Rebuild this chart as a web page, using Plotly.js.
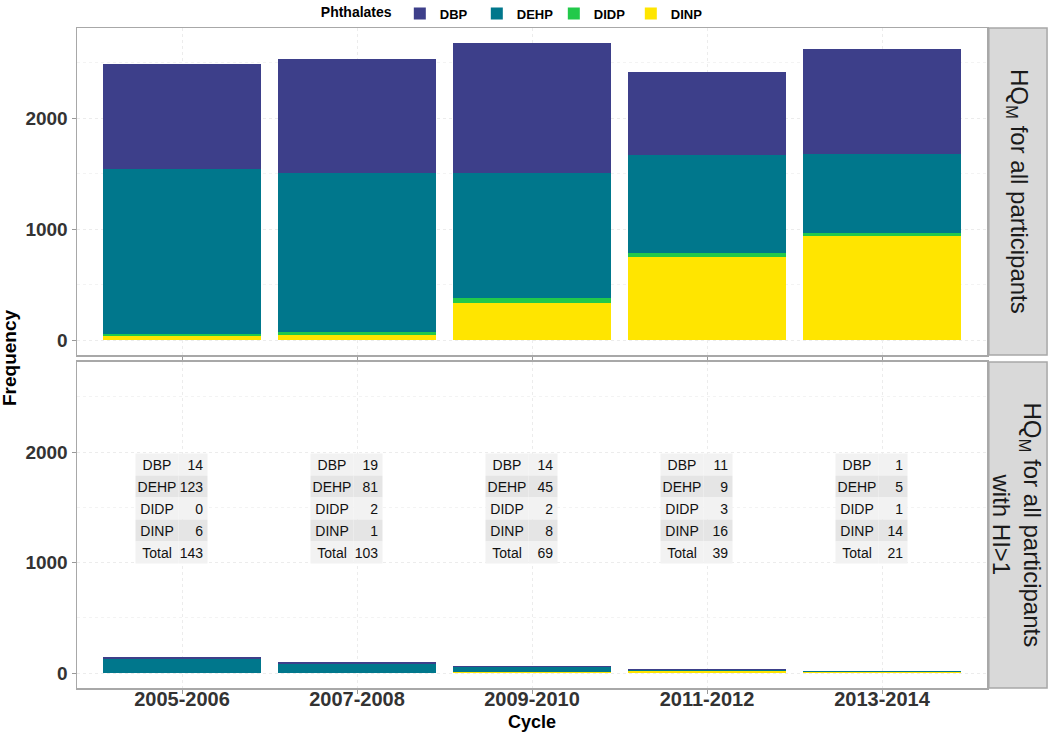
<!DOCTYPE html>
<html>
<head>
<meta charset="utf-8">
<script src="https://cdn.plot.ly/plotly-3.0.1.min.js"></script>
<style>html,body{margin:0;padding:0;background:#fff;}#chart{width:1050px;height:733px;}</style>
</head>
<body>
<div id="chart"></div>
<script>
// ---- Data ----
var cycles = ['2005-2006', '2007-2008', '2009-2010', '2011-2012', '2013-2014'];
var phthalates = ['DBP', 'DEHP', 'DIDP', 'DINP'];

// Panel 1: HQM for all participants
var allDBP  = [950, 1030, 1175, 745, 950];
var allDEHP = [1490, 1435, 1130, 885, 710];
var allDIDP = [15, 20, 38, 35, 25];
var allDINP = [38, 50, 338, 753, 940];

// Panel 2: HQM for all participants with HI>1
var hiDBP  = [14, 19, 14, 11, 1];
var hiDEHP = [123, 81, 45, 9, 5];
var hiDIDP = [0, 2, 2, 3, 1];
var hiDINP = [6, 1, 8, 16, 14];

var yTicks = [0, 1000, 2000];
var stripLabels = ['HQ<sub>M</sub> for all participants', 'HQ<sub>M</sub> for all participants<br>with HI>1'];

// ---- Styles ----
var colors = {DBP: '#3d3f8a', DEHP: '#00778c', DIDP: '#22c94a', DINP: '#ffe500'};
var FONT = 'Liberation Sans, Arial, sans-serif';

var allSeries = {DBP: allDBP, DEHP: allDEHP, DIDP: allDIDP, DINP: allDINP};
var hiSeries = {DBP: hiDBP, DEHP: hiDEHP, DIDP: hiDIDP, DINP: hiDINP};

var traces = [];
var stackOrder = ['DINP', 'DIDP', 'DEHP', 'DBP'];
stackOrder.forEach(function (k) {
  traces.push({type: 'bar', name: k, x: cycles, y: allSeries[k], xaxis: 'x', yaxis: 'y',
    marker: {color: colors[k], line: {width: 0}}, legendgroup: k, showlegend: true});
});
stackOrder.forEach(function (k) {
  traces.push({type: 'bar', name: k, x: cycles, y: hiSeries[k], xaxis: 'x2', yaxis: 'y2',
    marker: {color: colors[k], line: {width: 0}}, legendgroup: k, showlegend: false});
});

var yRange = [-134, 2815];
var gridStyle = {gridcolor: '#ececec', griddash: 'dot', gridwidth: 1};

function yAxis(domain, anchor) {
  return Object.assign({
    domain: domain, anchor: anchor, range: yRange, tickvals: yTicks, ticktext: yTicks.map(String),
    showline: true, mirror: true, linecolor: '#a8a8a8', linewidth: 1.5,
    ticks: 'outside', ticklen: 4, tickcolor: '#999', zeroline: false,
    tickfont: {family: FONT, size: 19, color: '#333', weight: 'bold'},
    minor: {dtick: 500, tick0: 0, showgrid: true, gridcolor: '#f3f3f3', griddash: 'dot', ticks: ''}
  }, gridStyle);
}
function xAxis(anchor, showLabels) {
  return Object.assign({
    anchor: anchor, domain: [0, 1], type: 'category', range: [-0.6, 4.6],
    showline: true, mirror: true, linecolor: '#a8a8a8', linewidth: 1.5,
    ticks: 'outside', ticklen: 4, tickcolor: '#999', showticklabels: showLabels,
    tickfont: {family: FONT, size: 20, color: '#333', weight: 'bold'}
  }, gridStyle);
}

var topDom = [0.5045, 1];
var botDom = [0, 0.494];

var annotations = [];
// axis titles
annotations.push({xref: 'paper', yref: 'paper', x: 0, y: 0.5, xshift: -68, xanchor: 'center', yanchor: 'middle',
  textangle: -90, text: '<b>Frequency</b>', showarrow: false, font: {family: FONT, size: 19, color: '#000'}});
annotations.push({xref: 'paper', yref: 'paper', x: 0.5, y: 0, yshift: -34, xanchor: 'center', yanchor: 'middle',
  text: '<b>Cycle</b>', showarrow: false, font: {family: FONT, size: 18, color: '#000'}});
// strip labels
[topDom, botDom].forEach(function (d, i) {
  annotations.push({xref: 'paper', yref: 'paper', x: 1.0335, y: (d[0] + d[1]) / 2, xanchor: 'center', yanchor: 'middle',
    textangle: 90, text: stripLabels[i], showarrow: false, font: {family: FONT, size: 24, color: '#1a1a1a'}});
});

// tables of counts in bottom panel
var rowLabels = ['DBP', 'DEHP', 'DIDP', 'DINP', 'Total'];
cycles.forEach(function (c, i) {
  var vals = [hiDBP[i], hiDEHP[i], hiDIDP[i], hiDINP[i], hiDBP[i] + hiDEHP[i] + hiDIDP[i] + hiDINP[i]];
  rowLabels.forEach(function (lab, r) {
    var bg = (r % 2 === 0) ? '#f2f2f2' : '#e5e5e5';
    var ys = (2 - r) * 22;
    annotations.push({xref: 'x2', yref: 'y2', x: c, y: 1490, xshift: -25, yshift: ys, xanchor: 'center', yanchor: 'middle',
      text: lab, showarrow: false, width: 42, height: 21, bgcolor: bg, borderpad: 0, align: 'center',
      font: {family: FONT, size: 14, color: '#111'}});
    annotations.push({xref: 'x2', yref: 'y2', x: c, y: 1490, xshift: 11, yshift: ys, xanchor: 'center', yanchor: 'middle',
      text: String(vals[r]) + ' ', showarrow: false, width: 28, height: 21, bgcolor: bg, borderpad: 0, align: 'right',
      font: {family: FONT, size: 14, color: '#111'}});
  });
});

var shapes = [];
[topDom, botDom].forEach(function (d) {
  shapes.push({type: 'rect', xref: 'paper', yref: 'paper', x0: 1.002, x1: 1.066, y0: d[0], y1: d[1],
    fillcolor: '#d9d9d9', line: {color: '#a8a8a8', width: 1.5}, layer: 'below'});
});

var layout = {
  width: 1050, height: 733,
  margin: {l: 77, r: 63, t: 28, b: 45, autoexpand: false},
  paper_bgcolor: '#fff', plot_bgcolor: '#fff',
  barmode: 'stack', bargap: 0.1,
  font: {family: FONT},
  showlegend: true,
  legend: {orientation: 'h', traceorder: 'reversed', x: 0.48, xanchor: 'center', y: 1.022, yanchor: 'middle',
    bgcolor: 'rgba(0,0,0,0)', entrywidth: 32, entrywidthmode: 'pixels',
    title: {text: '<b>Phthalates</b>', side: 'left', font: {family: FONT, size: 14, color: '#000'}},
    font: {family: FONT, size: 13, color: '#000', weight: 'bold'}, itemwidth: 30, tracegroupgap: 0},
  xaxis: xAxis('y', false),
  xaxis2: Object.assign(xAxis('y2', true), {matches: 'x', ticklabelstandoff: -12}),
  yaxis: yAxis(topDom, 'x'),
  yaxis2: yAxis(botDom, 'x2'),
  annotations: annotations,
  shapes: shapes
};

Plotly.newPlot('chart', traces, layout, {displayModeBar: false, staticPlot: true});
</script>
</body>
</html>
